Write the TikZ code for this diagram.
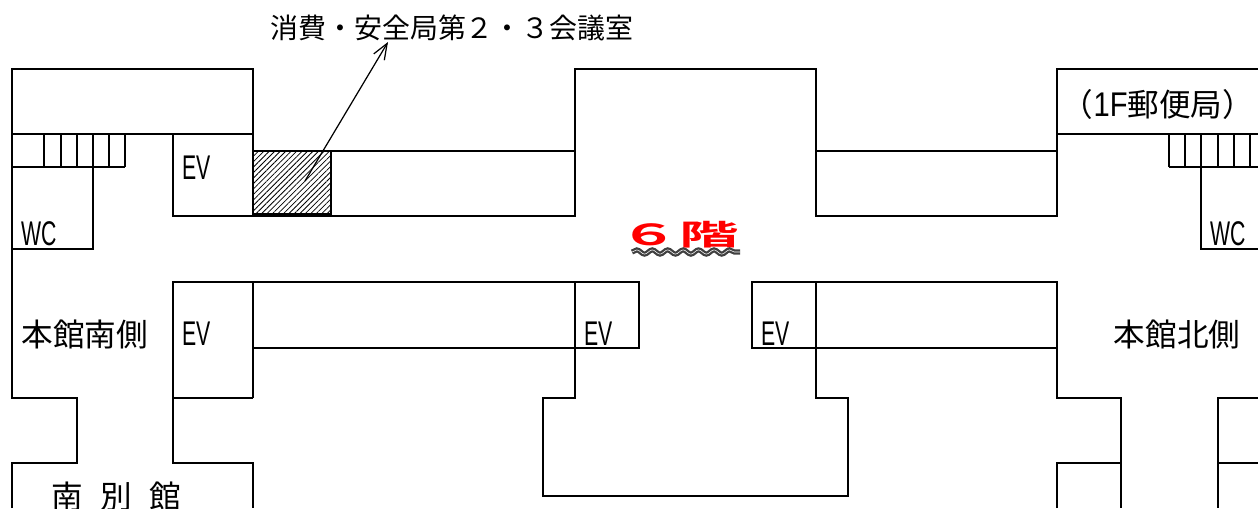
\documentclass[tikz,border=0pt]{standalone}
\usepackage{fontspec}
\usepackage{tikz}
\usetikzlibrary{patterns.meta,arrows.meta,decorations.pathmorphing}
\setmainfont{Noto Sans CJK JP}
\newfontfamily\latinnarrow[FakeStretch=0.62]{Liberation Sans}
\newfontfamily\latinwide[FakeStretch=0.85]{Liberation Sans}
\newfontfamily\floorfont[FakeStretch=2.05]{Noto Sans CJK JP Bold}

\begin{document}
\begin{tikzpicture}[x=0.02cm, y=-0.02cm, line width=1.2pt,
    every node/.style={inner sep=0pt, text=black},
    roomlabel/.style={font=\fontsize{18}{20}\selectfont},
    narrowlabel/.style={font=\latinnarrow\fontsize{19.5}{20}\selectfont, anchor=base west}]
      \clip[use as bounding box] (0,0) rectangle (1258,508);

      % Hatched room
      \path[pattern={Lines[angle=45, distance=2.2pt, line width=0.45pt]}, pattern color=black] (253,151) rectangle (331,214);
      \draw (253,151) rectangle (331,214);

      % South wing (left)
      \draw (12,508) -- (12,463) -- (77,463) -- (77,398) -- (12,398) -- (12,69) -- (253,69) -- (253,216);
      \draw (12,134) -- (253,134);
      \draw (12,167) -- (125,167);
      \foreach \xpos in {44,61,77,93,109,125}
        \draw (\xpos,134) -- (\xpos,167);
      \draw (93,167) -- (93,249) -- (12,249);
      \draw (173,134) -- (173,216) -- (575,216) -- (575,69) -- (816,69) -- (816,216) -- (1057,216) -- (1057,69) -- (1258,69);
      \draw (253,151) -- (575,151);
      \draw (816,151) -- (1057,151);

      % North wing (right)
      \draw (1057,134) -- (1258,134);
      \draw (1169,167) -- (1258,167);
      \foreach \xpos in {1169,1185,1201,1218,1234,1250}
        \draw (\xpos,134) -- (\xpos,167);
      \draw (1201,167) -- (1201,249) -- (1258,249);

      % Lower corridor blocks
      \draw (253,398) -- (173,398) -- (173,282) -- (639,282) -- (639,348) -- (253,348);
      \draw (253,282) -- (253,398);
      \draw (173,398) -- (173,463) -- (253,463) -- (253,508);
      \draw (575,282) -- (575,398) -- (543,398) -- (543,496) -- (848,496) -- (848,398) -- (816,398) -- (816,282);
      \draw (1057,348) -- (752,348) -- (752,282) -- (1057,282) -- (1057,398) -- (1121,398) -- (1121,508);
      \draw (1057,508) -- (1057,463) -- (1121,463);
      \draw (1258,398) -- (1218,398) -- (1218,508);
      \draw (1218,463) -- (1258,463);

      % Labels
      \node[font=\fontsize{15.9}{18}\selectfont] (roomtitle) at (452,28) {消費・安全局第２・３会議室};
      \node[roomlabel] (postoffice) at (1158,104) {（{\latinwide\fontsize{19.5}{20}\selectfont 1F}郵便局）};
      \node[roomlabel] (southside) at (85,334) {本館南側};
      \node[roomlabel] (northside) at (1177,334) {本館北側};
      \node[roomlabel, anchor=base] (annex) at (116,508) {南\hspace{0.55em}別\hspace{0.55em}館};
      \node[narrowlabel] (evone) at (181,179) {EV};
      \node[narrowlabel] (evtwo) at (181,345) {EV};
      \node[narrowlabel] (evthree) at (583,345) {EV};
      \node[narrowlabel] (evfour) at (760,345) {EV};
      \node[narrowlabel] (wcleft) at (20,245) {WC};
      \node[narrowlabel] (wcright) at (1209,245) {WC};

      % Floor mark with wavy underline
      \node[font=\floorfont\fontsize{16.5}{20}\selectfont, text=red, anchor=base] (floormark) at (679,245) {６階};
      \draw[decorate, decoration={snake, segment length=15.5*0.567pt, amplitude=1.2pt},
        black!75, line width=1.3pt, double=white, double distance=0.3pt] (632,252) -- (740,252);

      % Pointer to the hatched room
      \coordinate (roomspot) at (305,181);
      \coordinate (titletip) at (388,42);
      \draw[-{Straight Barb[length=9pt,width=7pt]}, line width=0.7pt] (roomspot) -- (titletip);
    \end{tikzpicture}
\end{document}
